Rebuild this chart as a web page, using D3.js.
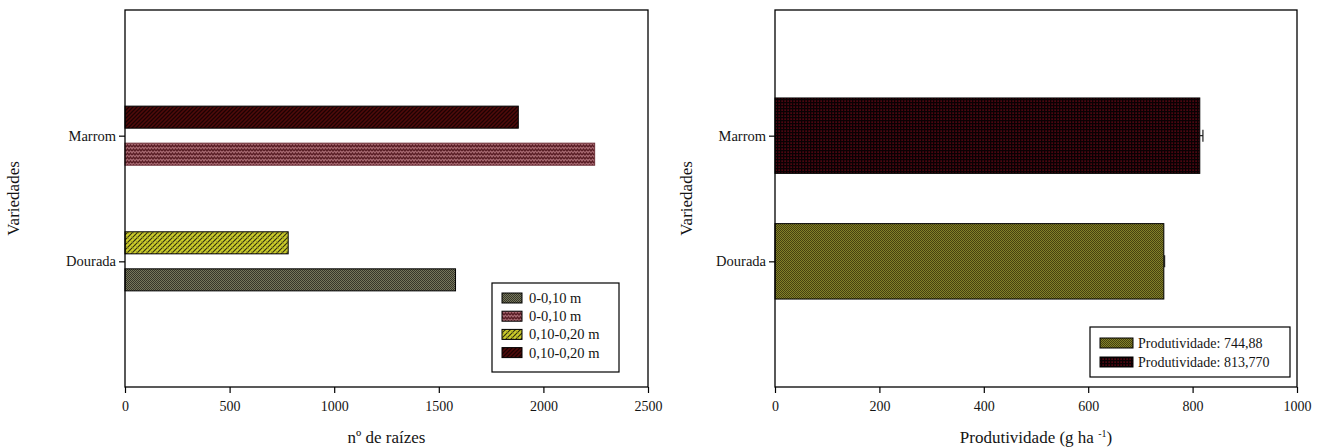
<!DOCTYPE html>
<html><head><meta charset="utf-8">
<script src="https://cdn.jsdelivr.net/npm/d3@7/dist/d3.min.js"></script>
<style>
body{margin:0;background:#fff}svg{display:block}
svg text{font-family:"Liberation Serif","Times New Roman",Times,serif !important;}
</style>
</head><body>
<svg id="c" width="1322" height="448"></svg>
<script>
// ---------- data ----------
const categories = ["Marrom", "Dourada"];
const depthSeries = ["0,10-0,20 m", "0-0,10 m"];
const raizes0_10 = [2245, 1580];      // Marrom, Dourada
const raizes10_20 = [1880, 780];      // Marrom, Dourada
const raizesTicks = [0, 500, 1000, 1500, 2000, 2500];
const produtividade = [813.77, 744.88];   // Marrom, Dourada
const produtividadeErr = [6, 1.5];
const prodTicks = [0, 200, 400, 600, 800, 1000];
const legendRaizes = ["0-0,10 m", "0-0,10 m", "0,10-0,20 m", "0,10-0,20 m"];
const legendProd = ["Produtividade: 744,88", "Produtividade: 813,770"];

// ---------- setup ----------
const svg = d3.select("#c");
const FONT = "Liberation Serif";
const defs = svg.append("defs");

function pat(id, w, h, bg, draw) {
  const p = defs.append("pattern").attr("id", id).attr("patternUnits", "userSpaceOnUse")
    .attr("width", w).attr("height", h);
  p.append("rect").attr("width", w).attr("height", h).attr("fill", bg);
  draw(p);
}
pat("pOliveL", 2, 2, "#77775b", p => {
  p.append("rect").attr("width", 1).attr("height", 1).attr("fill", "#36362a");
  p.append("rect").attr("x", 1).attr("y", 1).attr("width", 1).attr("height", 1).attr("fill", "#36362a");
});
pat("pPink", 6, 4, "#a86a72", p => {
  p.append("path").attr("d", "M0,3 L1.5,1 L3,3 L4.5,1 L6,3").attr("fill", "none")
    .attr("stroke", "#581c24").attr("stroke-width", 1.3);
});
pat("pYellow", 5, 5, "#cccc2a", p => {
  p.append("path").attr("d", "M-1,6 L6,-1 M-1,1 L1,-1 M4,6 L6,4").attr("stroke", "#2e2e10").attr("stroke-width", 1.1);
  p.append("path").attr("d", "M0,0 L5,5").attr("stroke", "#8a8a20").attr("stroke-width", 0.6);
});
pat("pDark", 4, 4, "#500a0a", p => {
  p.append("path").attr("d", "M-1,5 L5,-1 M-1,1 L1,-1 M3,5 L5,3").attr("stroke", "#1c0202").attr("stroke-width", 1.3);
});
pat("pOliveR", 2, 2, "#838029", p => {
  p.append("rect").attr("width", 1).attr("height", 1).attr("fill", "#45420f");
  p.append("rect").attr("x", 1).attr("y", 1).attr("width", 1).attr("height", 1).attr("fill", "#45420f");
});
pat("pGrid", 3, 3, "#4c0610", p => {
  p.append("rect").attr("width", 1.3).attr("height", 3).attr("fill", "#0a0103");
  p.append("rect").attr("width", 3).attr("height", 1.3).attr("fill", "#0a0103");
});

const fillRaizes = {
  "Marrom|0-0,10 m": "url(#pPink)", "Marrom|0,10-0,20 m": "url(#pDark)",
  "Dourada|0-0,10 m": "url(#pOliveL)", "Dourada|0,10-0,20 m": "url(#pYellow)"
};
const strokeRaizes = {
  "Marrom|0-0,10 m": "#6e3038", "Marrom|0,10-0,20 m": "#000",
  "Dourada|0-0,10 m": "#000", "Dourada|0,10-0,20 m": "#000"
};
const legendRaizesFill = ["url(#pOliveL)", "url(#pPink)", "url(#pYellow)", "url(#pDark)"];
const fillProd = { "Marrom": "url(#pGrid)", "Dourada": "url(#pOliveR)" };
const legendProdFill = ["url(#pOliveR)", "url(#pGrid)"];

const TOP = 10, BOTTOM = 387;

function txt(sel, size) {
  return sel.attr("font-family", FONT).style("font-size", size + "px").attr("fill", "#141414");
}

function frameAndAxes(g, x, y, x0, x1, ticks, yTitleX) {
  g.append("rect").attr("x", x0).attr("y", TOP).attr("width", x1 - x0).attr("height", BOTTOM - TOP)
    .attr("fill", "none").attr("stroke", "#000").attr("stroke-width", 1.3);
  const ax = g.append("g").attr("transform", `translate(0,${BOTTOM})`)
    .call(d3.axisBottom(x).tickValues(ticks).tickSize(6).tickPadding(8).tickFormat(d3.format("d")));
  ax.select(".domain").remove();
  ax.selectAll("line").attr("stroke-width", 1.2);
  txt(ax.selectAll("text"), 14);
  const ay = g.append("g").attr("transform", `translate(${x0},0)`)
    .call(d3.axisLeft(y).tickSize(6).tickPadding(3));
  ay.select(".domain").remove();
  ay.selectAll("line").attr("stroke-width", 1.2);
  txt(ay.selectAll("text"), 14.5);
  txt(g.append("text").attr("transform", `translate(${yTitleX},${(TOP + BOTTOM) / 2}) rotate(-90)`)
    .attr("text-anchor", "middle").attr("dy", "0.35em"), 17).text("Variedades");
  return g;
}

// ---------- left chart ----------
const xL = d3.scaleLinear().domain([0, 2500]).range([125, 648]);
const yL = d3.scalePoint().domain(categories).range([TOP, BOTTOM]).padding(1);
const inner = d3.scaleBand().domain(depthSeries)
  .range([-0.235 * yL.step(), 0.235 * yL.step()]).paddingInner(0.405);
const gL = svg.append("g");

const barsL = [];
categories.forEach((c, i) => {
  barsL.push({ cat: c, depth: "0,10-0,20 m", v: raizes10_20[i] });
  barsL.push({ cat: c, depth: "0-0,10 m", v: raizes0_10[i] });
});
gL.selectAll("rect.bar").data(barsL).join("rect").attr("class", "bar")
  .attr("x", xL(0)).attr("width", d => xL(d.v) - xL(0))
  .attr("y", d => yL(d.cat) + inner(d.depth)).attr("height", inner.bandwidth())
  .attr("fill", d => fillRaizes[d.cat + "|" + d.depth])
  .attr("stroke", d => strokeRaizes[d.cat + "|" + d.depth]).attr("stroke-width", 1);
frameAndAxes(gL, xL, yL, 125, 648, raizesTicks, 13);
txt(gL.append("text").attr("x", (125 + 648) / 2).attr("y", 443).attr("text-anchor", "middle"), 17)
  .text("nº de raízes");

// legend left
const lgL = gL.append("g");
lgL.append("rect").attr("x", 492).attr("y", 283).attr("width", 127).attr("height", 89)
  .attr("fill", "#fff").attr("stroke", "#000").attr("stroke-width", 1.2);
legendRaizes.forEach((t, i) => {
  const cy = 298 + i * 18.2;
  lgL.append("rect").attr("x", 502).attr("y", cy - 5).attr("width", 20).attr("height", 10)
    .attr("fill", legendRaizesFill[i]).attr("stroke", "#000").attr("stroke-width", 1);
  txt(lgL.append("text").attr("x", 529).attr("y", cy).attr("dy", "0.35em"), 14.5).text(t);
});

// ---------- right chart ----------
const xR = d3.scaleLinear().domain([0, 1000]).range([775, 1297]);
const yR = d3.scalePoint().domain(categories).range([TOP, BOTTOM]).padding(1);
const bandR = 0.6 * yR.step();
const gR = svg.append("g");
const barsR = categories.map((c, i) => ({ cat: c, v: produtividade[i], e: produtividadeErr[i] }));
gR.selectAll("rect.bar").data(barsR).join("rect").attr("class", "bar")
  .attr("x", xR(0)).attr("width", d => xR(d.v) - xR(0))
  .attr("y", d => yR(d.cat) - bandR / 2).attr("height", bandR)
  .attr("fill", d => fillProd[d.cat]).attr("stroke", "#000").attr("stroke-width", 1);
// error bars
gR.selectAll("path.err").data(barsR).join("path").attr("class", "err")
  .attr("d", d => `M${xR(d.v)},${yR(d.cat)}H${xR(d.v + d.e)}M${xR(d.v + d.e)},${yR(d.cat) - 6}V${yR(d.cat) + 6}`)
  .attr("stroke", "#222").attr("stroke-width", 1.2).attr("fill", "none");
frameAndAxes(gR, xR, yR, 775, 1297, prodTicks, 686);
const tR = txt(gR.append("text").attr("x", (775 + 1297) / 2).attr("y", 443).attr("text-anchor", "middle"), 17);
tR.append("tspan").text("Produtividade (g ha ");
tR.append("tspan").attr("dy", -6).style("font-size", "10px").text("-1");
tR.append("tspan").attr("dy", 6).text(")");

// legend right
const lgR = gR.append("g");
lgR.append("rect").attr("x", 1090).attr("y", 327).attr("width", 200).attr("height", 50)
  .attr("fill", "#fff").attr("stroke", "#000").attr("stroke-width", 1.2);
legendProd.forEach((t, i) => {
  const cy = 343 + i * 19;
  lgR.append("rect").attr("x", 1100).attr("y", cy - 5).attr("width", 33).attr("height", 10)
    .attr("fill", legendProdFill[i]).attr("stroke", "#000").attr("stroke-width", 1);
  txt(lgR.append("text").attr("x", 1138).attr("y", cy).attr("dy", "0.35em"), 14).text(t);
});
</script>
</body></html>
